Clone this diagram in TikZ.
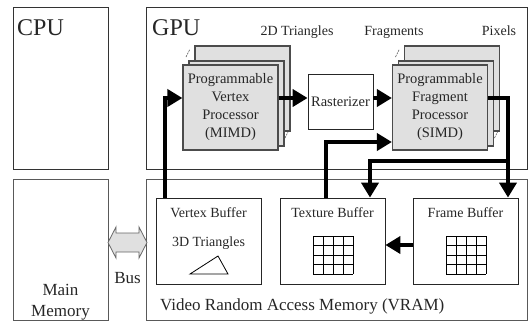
\documentclass[tikz,border=0pt]{standalone}
\usepackage{fontspec}
\setmainfont{Liberation Serif}
\usetikzlibrary{arrows.meta}
\tikzset{
	outerbox/.style={draw=black!80, line width=0.8pt, minimum width=95pt, inner sep=0pt},
	unit/.style={draw=black!70, fill=black!12, line width=1.2pt, minimum width=95pt, minimum height=85pt, inner sep=0pt, font=\fontsize{14.5}{18}\selectfont, align=center, text=black!85},
	buf/.style={draw=black!85, line width=0.8pt, minimum width=105pt, minimum height=86pt, inner sep=0pt},
	flow/.style={line width=4pt, -{Triangle[length=15pt,width=17pt]}},
	lbl/.style={font=\fontsize{14}{16}\selectfont, text=black!85, inner sep=0pt},
	big/.style={font=\fontsize{17}{21}\selectfont, text=black!85, inner sep=0pt},
	huge/.style={font=\fontsize{24}{28}\selectfont, text=black!85, inner sep=0pt},
}
\begin{document}
\begin{tikzpicture}[x=1pt,y=-1pt]
		\useasboundingbox (0,0) rectangle (529,322);
		\node[outerbox, minimum height=162pt] (cpu) at (60.5,88) {};
		\node[outerbox, minimum width=381pt, minimum height=162pt] (gpu) at (336.5,88) {};
		\node[outerbox, minimum height=141pt, draw=black!65] (mem) at (60.5,249.5) {};
		\node[outerbox, minimum width=381pt, minimum height=141pt, draw=black!65] (vram) at (336.5,249.5) {};
		\node[huge, anchor=base west] (cpulbl) at (17,35) {CPU};
		\node[huge, anchor=base west] (gpulbl) at (152,35) {GPU};
		\node[big, align=center] (memlbl) at (60.5,302) {Main\\Memory};
		\node[big, anchor=base west] (vramlbl) at (160,310) {Video Random Access Memory (VRAM)};
		\node[lbl, anchor=base] (tri2d) at (297,35) {2D Triangles};
		\node[lbl, anchor=base] (frags) at (394,35) {Fragments};
		\node[lbl, anchor=base] (pix) at (499,35) {Pixels};
		\node[unit] (vpback) at (242.5,88.5) {};
		\node[unit] (vpmid) at (236.5,103.5) {};
		\node[unit] (vp) at (230.5,107.5) {Programmable\\Vertex\\Processor\\(MIMD)};
		\node[unit] (fpback) at (452,88.5) {};
		\node[unit] (fpmid) at (446,103.5) {};
		\node[unit] (fp) at (440,107.5) {Programmable\\Fragment\\Processor\\(SIMD)};
		\foreach \dx in {0,209.5} {
			\draw[black!70, line width=0.6pt, dash pattern=on 2pt off 1pt] (186+\dx,57) -- (190+\dx,49);
			\draw[black!70, line width=0.6pt, dash pattern=on 2pt off 1pt] (285+\dx,138) -- (289+\dx,130);
		}
		\node[draw=black!85, line width=0.8pt, minimum width=65pt, minimum height=55pt, inner sep=0pt, lbl, font=\fontsize{14.5}{16}\selectfont] (ras) at (340.5,101.5) {Rasterizer};
		\node[buf] (vb) at (208.5,241) {};
		\node[buf] (tex) at (332.5,241) {};
		\node[buf] (fb) at (465.5,241) {};
		\node[lbl, anchor=base] (vblbl) at (208.5,217) {Vertex Buffer};
		\node[lbl, anchor=base] (tri3d) at (208.5,246) {3D Triangles};
		\node[lbl, anchor=base] (texlbl) at (332.5,217) {Texture Buffer};
		\node[lbl, anchor=base] (fblbl) at (465.5,217) {Frame Buffer};
		\draw[line width=0.8pt, line join=miter] (190,274) -- (218,256) -- (228,274) -- cycle;
		\foreach \gx in {313,446} {
			\foreach \k in {0,...,4} {
				\draw[line width=0.8pt] (\gx+\k*10,236) -- (\gx+\k*10,274);
				\draw[line width=0.8pt] (\gx,236+\k*9.5) -- (\gx+40,236+\k*9.5);
			}
		}
		\draw[draw=black!60, fill=black!12, line width=0.8pt] (108,242.5) -- (116,227) -- (116,233) -- (139,233) -- (139,227) -- (147,242.5) -- (139,258) -- (139,252) -- (116,252) -- (116,258) -- cycle;
		\node[big, anchor=base] (bus) at (127.5,283) {Bus};
		\draw[flow] ([xshift=-43.5pt]vb.north) |- ([yshift=9.5pt]vp.west);
		\draw[flow] ([yshift=9.5pt]vp.east) -- ([yshift=9.5pt]vp.east -| ras.west);
		\draw[flow] ([yshift=9.5pt]vp.east -| ras.east) -- ([yshift=9.5pt]fp.west);
		\draw[flow] ([yshift=9.5pt]fp.east) -| ([xshift=42.5pt]fb.north);
		\coordinate (split) at (508,161);
		\draw[flow] (split) -| ([xshift=37.5pt]tex.north);
		\draw[flow] ([xshift=-6.5pt]tex.north) |- ([yshift=-34.5pt]fp.west);
		\draw[flow] ([yshift=-4pt]fb.west) -- ([yshift=-4pt]tex.east);
\end{tikzpicture}
\end{document}
